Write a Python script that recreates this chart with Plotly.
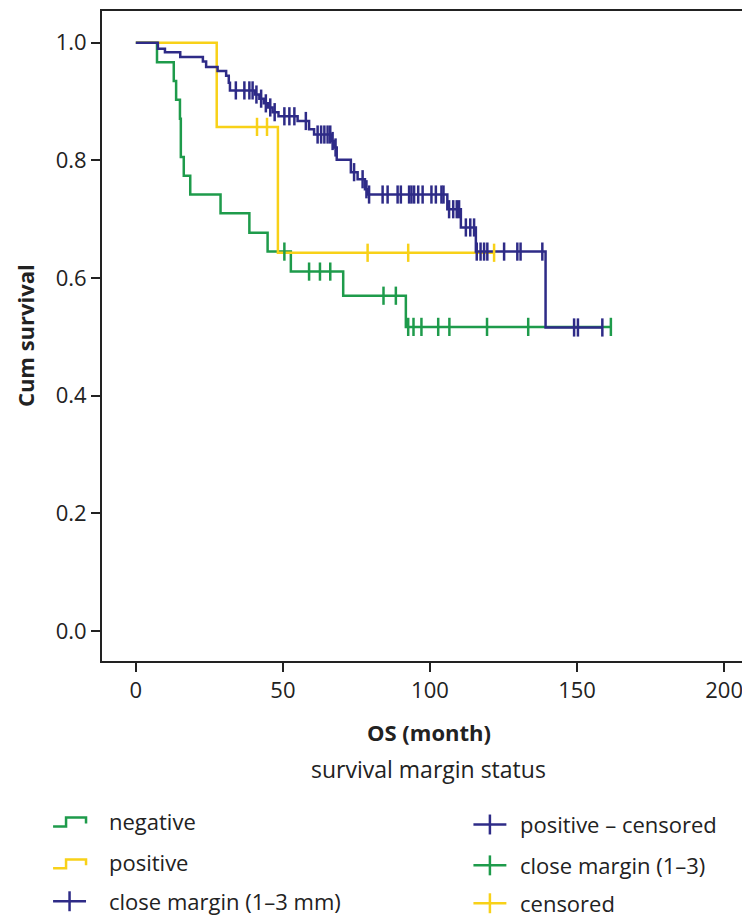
import numpy as np
import plotly.graph_objects as go

# ---------------- data ----------------
neg_times = [0, 7.2, 12.9, 13.7, 15.0, 15.3, 16.3, 18.5, 28.8, 38.6, 44.8, 52.7, 70.5, 91.8]
neg_surv = [1.0, 0.967, 0.935, 0.903, 0.871, 0.806, 0.774, 0.742, 0.710, 0.677, 0.645, 0.611, 0.570, 0.517]
neg_censored = [50.5, 58.9, 62.6, 66.1, 84.2, 88.4, 92.6, 94.4, 97.1, 102.8, 106.6, 119.4, 133.4, 161.5]

pos_times = [0, 27.5, 48.3]
pos_surv = [1.0, 0.857, 0.643]
pos_censored = [41.2, 44.6, 78.8, 92.6, 121.8]

close_times = [0, 7.5, 9.9, 15.1, 22.8, 23.9, 27.8, 30.7, 31.6, 32.0, 40.5, 42.0, 43.5, 45.0,
               46.5, 48.5, 55.0, 58.9, 60.6, 66.3, 67.3, 68.3, 73.1, 75.4, 77.9, 78.8,
               105.9, 110.5, 115.6, 139.3]
close_surv = [1.0, 0.990, 0.984, 0.976, 0.968, 0.959, 0.952, 0.944, 0.932, 0.919, 0.912, 0.905,
              0.897, 0.890, 0.882, 0.875, 0.867, 0.853, 0.844, 0.833, 0.822, 0.801, 0.780,
              0.768, 0.751, 0.742, 0.717, 0.686, 0.645, 0.516]
close_censored = [34.0, 36.9, 38.6, 39.7, 41.0, 42.6, 44.2, 45.7, 47.2, 50.5, 52.2, 53.9, 57.8,
                  61.8, 63.0, 64.1, 65.2, 66.1, 66.9, 67.9, 74.2, 77.1, 78.4, 79.3, 83.9, 85.6,
                  89.0, 90.1, 92.9, 93.7, 94.6, 96.0, 97.5, 100.5, 102.0, 103.9, 104.6, 106.5,
                  107.9, 109.1, 109.9, 112.2, 113.7, 115.0, 115.9, 117.2, 118.4, 119.5, 125.2,
                  129.7, 130.8, 138.2, 149.0, 150.3, 158.6]

x_ticks = [0, 50, 100, 150, 200]
y_ticks = [0.0, 0.2, 0.4, 0.6, 0.8, 1.0]

legend_left = ["negative", "positive", "close margin (1\u20133 mm)"]
legend_right = ["positive \u2013 censored", "close margin (1\u20133)", "censored"]

GREEN = "#1E9B4B"
YELLOW = "#F8D118"
NAVY = "#2E2B87"
FONT = "Open Sans"
TXT = "#222222"

W, H = 750, 922
L, R, T, B = 94, 748, 1, 653


def px(x):
    return (x - L) / (R - L)


def py(y):
    return (B - y) / (B - T)


def step_level(times, surv, t):
    idx = np.searchsorted(np.asarray(times), np.asarray(t), side="right") - 1
    return np.asarray(surv)[idx]


fig = go.Figure()

groups = [
    (neg_times, neg_surv, neg_censored, GREEN),
    (pos_times, pos_surv, pos_censored, YELLOW),
    (close_times, close_surv, close_censored, NAVY),
]

for times, surv, cens, col in groups:
    end_t = max(max(cens), times[-1])
    xs = list(times) + [end_t]
    ys = list(surv) + [surv[-1]]
    fig.add_trace(go.Scatter(x=xs, y=ys, mode="lines", line=dict(color=col, width=2.5, shape="hv"),
                             showlegend=False, hoverinfo="skip"))
for times, surv, cens, col in groups:
    fig.add_trace(go.Scatter(x=cens, y=step_level(times, surv, cens), mode="markers",
                             marker=dict(symbol="line-ns", size=13, line=dict(color=col, width=2.5)),
                             showlegend=False, hoverinfo="skip"))

axis_common = dict(showline=True, linecolor="#222222", linewidth=2, mirror=True,
                   ticks="outside", ticklen=9, tickwidth=1.5, tickcolor="#222222",
                   showgrid=False, zeroline=False,
                   tickfont=dict(family=FONT, size=22, color=TXT))

fig.update_xaxes(range=[-11.5, 210.5], tickvals=x_ticks, **axis_common)
fig.update_yaxes(range=[-0.051, 1.054], tickvals=y_ticks, tickformat=".1f", **axis_common)

annotations = [
    dict(text="<b>Cum survival</b>", x=px(17), y=py(327), textangle=-90,
         font=dict(family=FONT, size=22, color=TXT)),
    dict(text="<b>OS (month)</b>", x=px(421), y=py(724),
         font=dict(family=FONT, size=22, color=TXT)),
    dict(text="survival margin status", x=px(421), y=py(761),
         font=dict(family=FONT, size=23, color=TXT)),
]
rows_left = [813, 855, 894]
rows_right = [817, 858, 896]
for txt, yy in zip(legend_left, rows_left):
    annotations.append(dict(text=txt, x=px(100), y=py(yy), xanchor="left",
                            font=dict(family=FONT, size=22, color=TXT)))
for txt, yy in zip(legend_right, rows_right):
    annotations.append(dict(text=txt, x=px(512), y=py(yy), xanchor="left",
                            font=dict(family=FONT, size=22, color=TXT)))
for a in annotations:
    a.update(xref="paper", yref="paper", showarrow=False, borderpad=0)
    a.setdefault("xanchor", "center")
    a.setdefault("yanchor", "middle")

shapes = []


def step_glyph(x0, yc, col):
    pts = [(x0, yc + 6), (x0 + 13, yc + 6), (x0 + 13, yc - 3), (x0 + 33, yc - 3), (x0 + 33, yc + 3)]
    path = "M " + " L ".join(f"{px(a):.5f},{py(b):.5f}" for a, b in pts)
    return dict(type="path", path=path, xref="paper", yref="paper",
                line=dict(color=col, width=2.5))


def plus_glyph(x0, yc, col, w=33, h=20):
    return [
        dict(type="line", xref="paper", yref="paper", x0=px(x0), x1=px(x0 + w), y0=py(yc), y1=py(yc),
             line=dict(color=col, width=2.5)),
        dict(type="line", xref="paper", yref="paper", x0=px(x0 + w / 2), x1=px(x0 + w / 2),
             y0=py(yc - h / 2), y1=py(yc + h / 2), line=dict(color=col, width=2.5)),
    ]


shapes.append(step_glyph(45, rows_left[0], GREEN))
shapes.append(step_glyph(45, rows_left[1], YELLOW))
shapes += plus_glyph(45, rows_left[2], NAVY)
shapes += plus_glyph(466, rows_right[0], NAVY)
shapes += plus_glyph(466, rows_right[1], GREEN)
shapes += plus_glyph(466, rows_right[2], YELLOW)

fig.update_layout(width=W, height=H, margin=dict(l=L, r=W - R, t=T, b=H - B),
                  plot_bgcolor="white", paper_bgcolor="white",
                  annotations=annotations, shapes=shapes,
                  font=dict(family=FONT, color=TXT))

fig.write_html("out.html")
